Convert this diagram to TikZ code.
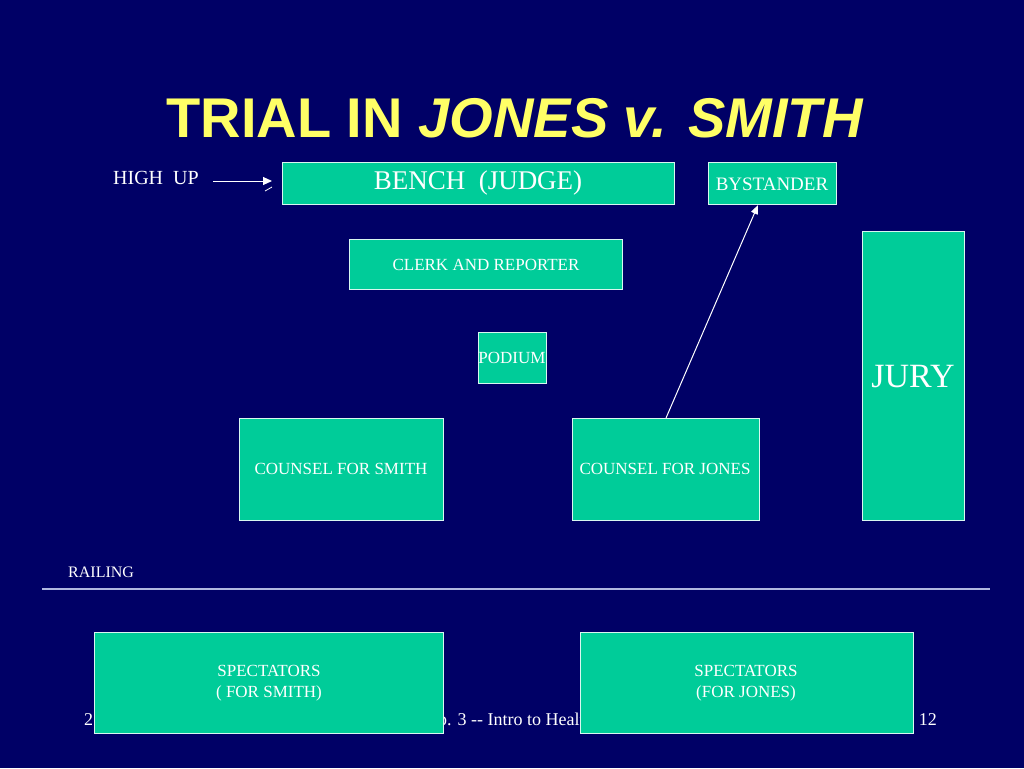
\documentclass[tikz,border=0pt]{standalone}
\usepackage{fontspec}
\setmainfont{Liberation Serif}
\newfontfamily\titlefont{Liberation Sans}
\usetikzlibrary{arrows.meta}
\definecolor{bg}{HTML}{000066}
\definecolor{boxc}{HTML}{00CC99}
\definecolor{titley}{HTML}{FFFF66}
\definecolor{rail}{HTML}{B0B8E0}
\begin{document}
\begin{tikzpicture}[x=1pt,y=-1pt,
  room/.style={draw=white!85!boxc,line width=0.8pt,fill=boxc},
  lbl/.style={text=white,font=\fontsize{17}{20}\selectfont,align=center,inner sep=0pt},
  wline/.style={draw=white,line width=1pt},
]
\fill[bg] (0,0) rectangle (1024,768);
\useasboundingbox (0,0) rectangle (1024,768);
% title
\node[text=titley,font=\titlefont\bfseries\fontsize{56}{62}\selectfont,anchor=base] (title) at (515,137) {TRIAL IN \textit{JONES v. SMITH}};
% footer (partly hidden)
\node[text=white,font=\fontsize{18}{20}\selectfont,anchor=base west,inner sep=0pt] (fl) at (84,725) {2};
\node[text=white,font=\fontsize{18}{20}\selectfont,anchor=base west,inner sep=0pt] (fc) at (438,725) {p. 3 -\/- Intro to Health Law};
\node[text=white,font=\fontsize{18}{20}\selectfont,anchor=base east,inner sep=0pt] (fr) at (937,725) {12};
% boxes
\path[room] (282,162) rectangle (674,204);
\node[lbl,font=\fontsize{27}{30}\selectfont] (bench) at (478,183) {BENCH\ \ (JUDGE)};
\path[room] (708,162) rectangle (836,204);
\node[lbl,font=\fontsize{19}{22}\selectfont] (bystander) at (772,184) {BYSTANDER};
\coordinate (bysb) at (758,205);
\path[room] (349,239) rectangle (622,289);
\node[lbl] (clerk) at (486,265) {CLERK AND REPORTER};
\path[room] (478,332) rectangle (546,383);
\node[lbl] (podium) at (512,358) {PODIUM};
\path[room] (862,231) rectangle (964,520);
\node[lbl,font=\fontsize{34}{38}\selectfont] (jury) at (913,377) {JURY};
\path[room] (239,418) rectangle (443,520);
\node[lbl] (csmith) at (341,469) {COUNSEL FOR SMITH};
\path[room] (572,418) rectangle (759,520);
\node[lbl] (cjones) at (665,469) {COUNSEL FOR JONES};
\coordinate (cjt) at (666,418);
\path[room] (94,632) rectangle (443,733);
\node[lbl] (ssmith) at (269,683) {SPECTATORS\\[1pt]( FOR SMITH)};
\path[room] (580,632) rectangle (913,733);
\node[lbl] (sjones) at (746,683) {SPECTATORS\\[1pt](FOR JONES)};
% high up
\node[text=white,font=\fontsize{20}{22}\selectfont,anchor=base west,inner sep=0pt] (highup) at (113,184) {HIGH\ \ UP};
\coordinate (hua) at (213,181);
\coordinate (hub) at (272,181);
\draw[wline,-{Triangle[length=9pt,width=8pt]}] (hua) -- (hub);
\coordinate (tka) at (265,191);
\coordinate (tkb) at (272,187);
\draw[wline,line width=0.8pt] (tka) -- (tkb);
% bystander arrow
\draw[wline,-{Triangle[length=9pt,width=7pt]}] (cjt) -- (bysb);
% railing
\node[text=white,font=\fontsize{16}{19}\selectfont,anchor=base west,inner sep=0pt] (railing) at (68,577) {RAILING};
\coordinate (ra) at (42,589);
\coordinate (rb) at (990,589);
\draw[rail,line width=1.2pt] (ra) -- (rb);
\end{tikzpicture}
\end{document}
